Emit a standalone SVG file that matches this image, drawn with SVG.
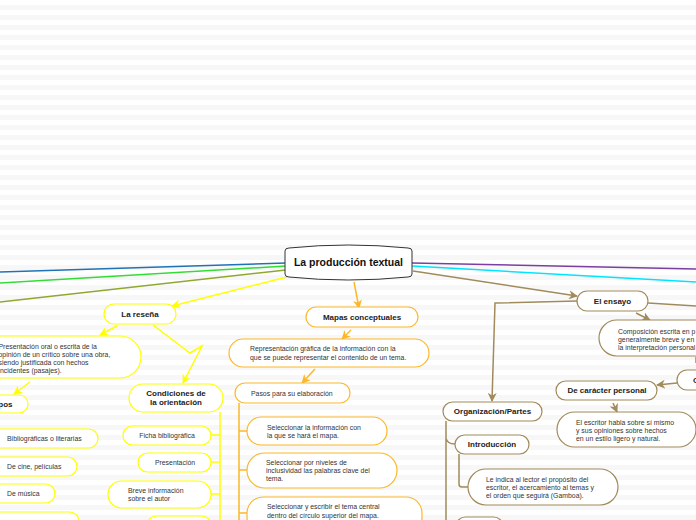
<svg xmlns="http://www.w3.org/2000/svg" width="696" height="520" viewBox="0 0 696 520">
<defs>
<pattern id="bg" width="10" height="10" patternUnits="userSpaceOnUse">
<rect width="10" height="10" fill="#ffffff"/>
<rect y="5" width="10" height="5" fill="#f7f7f7"/>
</pattern>
<marker id="aY" viewBox="0 0 10 10" refX="9" refY="5" markerWidth="9" markerHeight="9" markerUnits="userSpaceOnUse" orient="auto"><path d="M0,0 L10,5 L0,10 L3,5 z" fill="#ffff00"/></marker>
<marker id="aO" viewBox="0 0 10 10" refX="9" refY="5" markerWidth="9" markerHeight="9" markerUnits="userSpaceOnUse" orient="auto"><path d="M0,0 L10,5 L0,10 L3,5 z" fill="#fbb829"/></marker>
<marker id="aB" viewBox="0 0 10 10" refX="9" refY="5" markerWidth="9" markerHeight="9" markerUnits="userSpaceOnUse" orient="auto"><path d="M0,0 L10,5 L0,10 L3,5 z" fill="#a18a5b"/></marker>
</defs>
<style>
text{font-family:"Liberation Sans",Arial,sans-serif;fill:#333;font-size:6.9px}
.b{font-weight:bold;font-size:8px;fill:#222}
.c{text-anchor:middle}
.ny{fill:#fff;stroke:#ffff00;stroke-width:1.2}
.no{fill:#fff;stroke:#fbb829;stroke-width:1.2}
.nb{fill:#fff;stroke:#a18a5b;stroke-width:1.2}
.l{fill:none;stroke-width:1.5}
.ly{stroke:#ffff00}
.lo{stroke:#fbb829}
.lb{stroke:#a18a5b}
</style>
<rect width="696" height="520" fill="url(#bg)"/>
<g id="connectors">
<path class="l" d="M286,263 L0,272" stroke="#1f72b5"/>
<path class="l" d="M286,266 L0,283" stroke="#33dd33"/>
<path class="l" d="M286,270 L0,302" stroke="#8fa82e"/>
<path class="l" d="M412,263 L696,269" stroke="#7b3fa0"/>
<path class="l" d="M412,266 L696,282" stroke="#00e5ff"/>
<path class="l ly" d="M287,277 L172,306" marker-end="url(#aY)"/>
<path class="l lb" d="M413,271 L577,296" marker-end="url(#aB)"/>
<path class="l lo" d="M354,282 L359,308" marker-end="url(#aO)"/>
<path class="l lo" d="M351,330 L342,339" marker-end="url(#aO)"/>
<path class="l lo" d="M315,369 L302,383" marker-end="url(#aO)"/>
<path class="l lo" d="M239,403 L239,520 M239,431 L247,431 M239,470 L247,470 M239,513 L247,513"/>
<path class="l ly" d="M117,326 L100,335" marker-end="url(#aY)"/>
<path class="l ly" d="M30,382 L14,394" marker-end="url(#aY)"/>
<path class="l ly" d="M153,325 L190,353 L202,346 L183,383" marker-end="url(#aY)"/>
<path class="l ly" d="M220,412 L220,520 M220,435 L211,435 M220,462 L211,462 M220,494 L211,494"/>
<path class="l lb" d="M577,301 L495,303 L492,401" marker-end="url(#aB)"/>
<path class="l lb" d="M648,303 L696,306"/>
<path class="l lb" d="M636,313 L650,320" marker-end="url(#aB)"/>
<path class="l lb" d="M696,357 L696,363"/>
<path class="l lb" d="M677,383 L657,385" marker-end="url(#aB)"/>
<path class="l lb" d="M613,403 L617,412" marker-end="url(#aB)"/>
<path class="l lb" d="M446,421 L446,520 M446,438 Q447,444 455,444"/>
<path class="l lb" d="M459,454 L459,484 Q459,487 462,487 L468,487"/>
</g>
<g id="n-central">
<path d="M285,251 Q285,248 289,248 Q348,242 408,248 Q412,248 412,251 L412,274 Q412,277 408,277 Q348,283 289,277 Q285,277 285,274 Z" fill="#fff" stroke="#333" stroke-width="1"/>
<text x="348.5" y="265.8" class="c" style="font-weight:bold;font-size:10.5px;fill:#111">La producción textual</text>
</g>
<g id="n-resena">
<rect class="ny" x="104" y="304" width="72" height="20" rx="10"/>
<text x="140" y="316.8" class="b c">La reseña</text>
</g>
<g id="n-presentacion-oral">
<rect class="ny" x="-20" y="336" width="161" height="42" rx="21"/>
<text x="-1.5" y="348.5">Presentación oral o escrita de la</text>
<text x="-1.5" y="356.5">opinión de un crítico sobre una obra,</text>
<text x="-1.5" y="364.5">siendo justificada con hechos</text>
<text x="-1.5" y="372.5">incidentes (pasajes).</text>
</g>
<g id="n-tipos">
<rect class="ny" x="-20" y="395" width="48" height="18" rx="9"/>
<text x="12.5" y="406.8" class="b" style="text-anchor:end">Tipos</text>
</g>
<g id="n-biblio">
<rect class="ny" x="-20" y="429" width="118" height="19" rx="9.5"/>
<text x="7" y="440.8">Bibliográficas o literarias</text>
</g>
<g id="n-cine">
<rect class="ny" x="-20" y="457" width="97" height="19" rx="9.5"/>
<text x="7" y="468.8">De cine, películas</text>
</g>
<g id="n-musica">
<rect class="ny" x="-20" y="484" width="75" height="19" rx="9.5"/>
<text x="7" y="495.8">De música</text>
</g>
<g id="n-tipo4">
<rect class="ny" x="-20" y="512" width="99" height="19" rx="9.5"/>
</g>
<g id="n-condiciones">
<rect class="ny" x="129" y="384" width="94" height="28" rx="14"/>
<text x="176" y="396.3" class="b c">Condiciones de</text>
<text x="176" y="404.8" class="b c">la orientación</text>
</g>
<g id="n-ficha">
<rect class="ny" x="123" y="426" width="88" height="19" rx="9.5"/>
<text x="167" y="437.8" class="c">Ficha bibliográfica</text>
</g>
<g id="n-presentacion">
<rect class="ny" x="138" y="453" width="73" height="19" rx="9.5"/>
<text x="175" y="465.2" class="c">Presentación</text>
</g>
<g id="n-breve">
<rect class="ny" x="108" y="481" width="103" height="27" rx="13.5"/>
<text x="128" y="492.8">Breve información</text>
<text x="128" y="500.8">sobre el autor</text>
</g>
<g id="n-cond4">
<rect class="ny" x="147" y="516" width="64" height="19" rx="9.5"/>
</g>
<g id="n-mapas">
<rect class="no" x="306" y="307" width="112" height="20" rx="10"/>
<text x="362" y="319.8" class="b c">Mapas conceptuales</text>
</g>
<g id="n-representacion">
<rect class="no" x="229" y="339" width="200" height="28" rx="14"/>
<text x="250" y="351.3">Representación gráfica de la información con la</text>
<text x="250" y="359.8">que se puede representar el contenido de un tema.</text>
</g>
<g id="n-pasos">
<rect class="no" x="235" y="383" width="115" height="20" rx="10"/>
<text x="251" y="395.8">Pasos para su elaboración</text>
</g>
<g id="n-paso1">
<rect class="no" x="247" y="417" width="140" height="28" rx="14"/>
<text x="267" y="429.8">Seleccionar la información con</text>
<text x="267" y="438.3">la que se hará el mapa.</text>
</g>
<g id="n-paso2">
<rect class="no" x="247" y="453" width="150" height="35" rx="17.5"/>
<text x="266" y="464.8">Seleccionar por niveles de</text>
<text x="266" y="472.8">inclusividad las palabras clave del</text>
<text x="266" y="480.8">tema.</text>
</g>
<g id="n-paso3">
<rect class="no" x="247" y="497" width="175" height="36" rx="16"/>
<text x="267" y="509.3">Seleccionar y escribir el tema central</text>
<text x="267" y="517.8">dentro del círculo superior del mapa.</text>
</g>
<g id="n-ensayo">
<rect class="nb" x="577" y="291" width="71" height="20" rx="10"/>
<text x="612.5" y="303.8" class="b c">El ensayo</text>
</g>
<g id="n-composicion">
<rect class="nb" x="599" y="320" width="130" height="36" rx="18"/>
<text x="618" y="333.8">Composición escrita en p</text>
<text x="618" y="341.8">generalmente breve y en</text>
<text x="618" y="349.8">la interpretación personal</text>
</g>
<g id="n-caracteristicas">
<rect class="nb" x="677" y="370" width="60" height="20" rx="10"/>
<text x="693" y="382.8" class="b">C</text>
</g>
<g id="n-personal">
<rect class="nb" x="556" y="381" width="101" height="19" rx="9.5"/>
<text x="607" y="393.3" class="b c">De carácter personal</text>
</g>
<g id="n-escritor">
<rect class="nb" x="557" y="412" width="139" height="35" rx="17.5"/>
<text x="576" y="424.8">El escritor habla sobre sí mismo</text>
<text x="576" y="432.8">y sus opiniones sobre hechos</text>
<text x="576" y="440.8">en un estilo ligero y natural.</text>
</g>
<g id="n-organizacion">
<rect class="nb" x="443" y="402" width="99" height="19" rx="9.5"/>
<text x="492.5" y="413.8" class="b c">Organización/Partes</text>
</g>
<g id="n-introduccion">
<rect class="nb" x="455" y="435" width="74" height="19" rx="9.5"/>
<text x="492" y="446.8" class="b c">Introducción</text>
</g>
<g id="n-leindica">
<rect class="nb" x="468" y="469" width="150" height="36" rx="18"/>
<text x="486" y="481.8">Le indica al lector el propósito del</text>
<text x="486" y="489.8">escritor, el acercamiento al temas y</text>
<text x="486" y="497.8">el orden que seguirá (Gamboa).</text>
</g>
<g id="n-parte2">
<rect class="nb" x="456" y="517" width="47" height="19" rx="9.5"/>
</g>
</svg>
